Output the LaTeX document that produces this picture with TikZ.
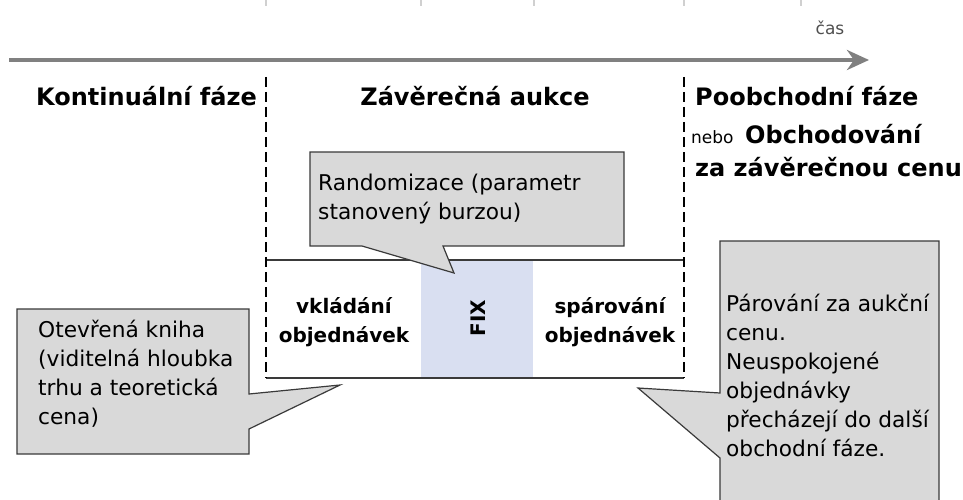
\documentclass[tikz,border=0pt]{standalone}
\usepackage{fontspec}
\setmainfont{DejaVu Sans}
\usetikzlibrary{arrows.meta}
\definecolor{calloutfill}{HTML}{D9D9D9}
\definecolor{calloutline}{HTML}{3A3A3A}
\definecolor{fixblue}{HTML}{D9DFF1}
\definecolor{axisgray}{HTML}{808080}
\definecolor{tickgray}{HTML}{D0D0D0}
\definecolor{timegray}{HTML}{505050}
\begin{document}
\begin{tikzpicture}[x=1pt,y=-1pt,
  heading/.style={font=\bfseries\fontsize{24}{29}\selectfont, inner sep=0pt, anchor=base west},
  smalltext/.style={font=\fontsize{17}{20}\selectfont, inner sep=0pt, anchor=base west},
  callout/.style={fill=calloutfill, draw=calloutline, line width=1.2pt, line join=miter},
  callouttext/.style={font=\fontsize{21.7}{29}\selectfont, inner sep=0pt, anchor=base west, align=left},
  boxtext/.style={font=\bfseries\fontsize{20}{29}\selectfont, inner sep=0pt, anchor=base, align=center},
  phaseline/.style={line width=2.5pt, dash pattern=on 10pt off 5pt},
  boxline/.style={draw=calloutline, line width=1.5pt},
  axis/.style={draw=axisgray, line width=4pt, -{Stealth[length=22pt,width=20pt,inset=7pt]}},
  tick/.style={draw=tickgray, line width=1.5pt}
]
\useasboundingbox (0,0) rectangle (963,500);
\clip (0,0) rectangle (963,500);
\fill[white] (0,0) rectangle (963,500);

% top ticks
\foreach \tx in {266,421,534,684,801} \draw[tick] (\tx,0) -- (\tx,6);

% time axis
\coordinate (axstart) at (9,60);
\coordinate (axend) at (869,60);
\draw[axis] (axstart) -- (axend);
\node[font=\fontsize{17}{20}\selectfont, text=timegray, inner sep=0pt, anchor=base] (cas) at (830,35) {čas};

% headings
\node[heading] (kont) at (36,106) {Kontinuální fáze};
\node[heading, anchor=base] (zav) at (475,106) {Závěrečná aukce};
\node[heading] (poob) at (695,106) {Poobchodní fáze};
\node[smalltext] (nebo) at (691,143) {nebo};
\node[heading] (obch) at (745,143) {Obchodování};
\node[heading] (zacenu) at (695,176) {za závěrečnou cenu};

% auction box
\fill[fixblue] (421,260) rectangle (533,378);
\draw[boxline] (266,260) -- (684,260);
\draw[boxline] (266,378) -- (684,378);
\node[boxtext] (vkl) at (344,342) {vkládání\\objednávek};
\node[boxtext, rotate=90, anchor=center] (fix) at (478,318) {FIX};
\node[boxtext] (spar) at (610,342) {spárování\\objednávek};

% phase separators
\draw[phaseline] (266,77) -- (266,378);
\draw[phaseline] (684,77) -- (684,378);

% callout: randomizace
\coordinate (randtip) at (454,273);
\draw[callout] (310,152) -- (624,152) -- (624,246) -- (443,246) -- (randtip) -- (362,246) -- (310,246) -- cycle;
\node[callouttext] (rand) at (318,219) {Randomizace (parametr\\stanovený burzou)};

% callout: open book
\coordinate (opentip) at (340,385);
\draw[callout] (17,309) -- (249,309) -- (249,394) -- (opentip) -- (249,429) -- (249,454) -- (17,454) -- cycle;
\node[callouttext] (open) at (38,424) {Otevřená kniha\\(viditelná hloubka\\trhu a teoretická\\cena)};

% callout: matching
\coordinate (matchtip) at (638,388);
\draw[callout] (720,241) -- (939,241) -- (939,520) -- (720,520) -- (720,458) -- (matchtip) -- (720,393) -- cycle;
\node[callouttext] (match) at (726,456) {Párování za aukční\\cenu.\\Neuspokojené\\objednávky\\přecházejí do další\\obchodní fáze.};
\end{tikzpicture}
\end{document}
